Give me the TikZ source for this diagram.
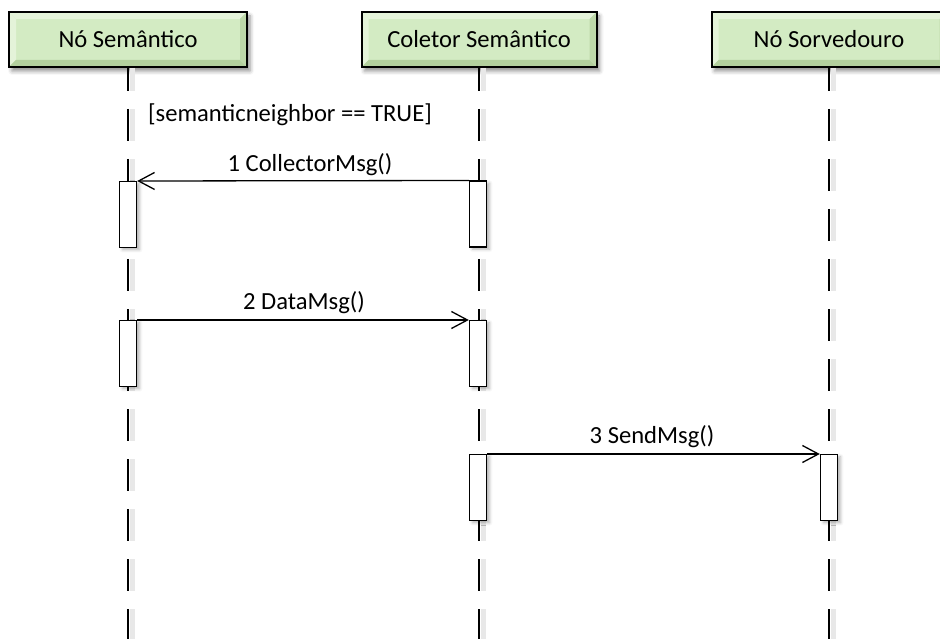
\documentclass[tikz,border=0pt]{standalone}
\usepackage{fontspec}
\setmainfont{Carlito}
\usetikzlibrary{arrows.meta,shadows.blur}

\definecolor{hdrgreen}{HTML}{D3EBC3}
\definecolor{bevlight}{HTML}{E4F3D9}
\definecolor{bevdark}{HTML}{B3D09E}

\tikzset{
  header/.style={draw=black, line width=2pt, fill=hdrgreen,
    minimum height=55pt, inner sep=0pt,
    font=\fontsize{24.6}{29}\selectfont,
    blur shadow={shadow xshift=3pt, shadow yshift=-4pt,
      shadow blur radius=4pt, shadow opacity=45},
    path picture={
      \coordinate (pnw) at (path picture bounding box.north west);
      \coordinate (pne) at (path picture bounding box.north east);
      \coordinate (psw) at (path picture bounding box.south west);
      \coordinate (pse) at (path picture bounding box.south east);
      \fill[bevlight] (pnw) -- (pne) -- ([shift={(-7pt,-7pt)}]pne)
        -- ([shift={(7pt,-7pt)}]pnw) -- cycle;
      \fill[bevlight] (pnw) -- (psw) -- ([shift={(7pt,7pt)}]psw)
        -- ([shift={(7pt,-7pt)}]pnw) -- cycle;
      \fill[bevdark] (psw) -- (pse) -- ([shift={(-7pt,7pt)}]pse)
        -- ([shift={(7pt,7pt)}]psw) -- cycle;
      \fill[bevdark!70!hdrgreen] (pne) -- (pse) -- ([shift={(-7pt,7pt)}]pse)
        -- ([shift={(-7pt,-7pt)}]pne) -- cycle;
    }},
  lifeline/.style={line width=1.7pt, dash pattern=on 32pt off 18pt, dash phase=9pt},
  lifeshadow/.style={line width=5pt, black!9, dash pattern=on 32pt off 18pt, dash phase=9pt},
  activation/.style={draw=black, fill=white, line width=1.4pt,
    minimum width=17pt, minimum height=66pt, inner sep=0pt, anchor=north,
    blur shadow={shadow xshift=3pt, shadow yshift=-2pt,
      shadow blur radius=3pt, shadow opacity=30}},
  msg/.style={line width=1.3pt,
    -{Straight Barb[length=16pt, width=17pt, line width=1.3pt]}},
  msglabel/.style={font=\fontsize{24.6}{29}\selectfont, inner sep=1pt},
}

\begin{document}
\begin{tikzpicture}[x=1pt, y=-1pt]
  \useasboundingbox (0,0) rectangle (940,639);

  % lifeline heads
  \node[header, minimum width=238pt] (h1) at (128,39.5) {Nó Semântico};
  \node[header, minimum width=235pt] (h2) at (479,39.5) {Coletor Semântico};
  \node[header, minimum width=235pt] (h3) at (829,39.5) {Nó Sorvedouro};

  % lifeline ends
  \coordinate (e1) at (128,639);
  \coordinate (e2) at (479,639);
  \coordinate (e3) at (829,639);

  % dashed lifelines with a soft shadow
  \draw[lifeshadow] ([xshift=4pt]h1.south) -- ([xshift=4pt]e1);
  \draw[lifeshadow] ([xshift=4pt]h2.south) -- ([xshift=4pt]e2);
  \draw[lifeshadow] ([xshift=4pt]h3.south) -- ([xshift=4pt]e3);
  \draw[lifeline] (h1.south) -- (e1);
  \draw[lifeline] (h2.south) -- (e2);
  \draw[lifeline] (h3.south) -- (e3);

  % guard condition
  \node[msglabel] (guard) at (290,115) {[semanticneighbor == TRUE]};

  % activation bars
  \node[activation] (a1) at (128,181) {};
  \node[activation] (a2) at (478,180.5) {};
  \node[activation] (a3) at (128,320) {};
  \node[activation] (a4) at (478,320) {};
  \node[activation] (a5) at (478,454) {};
  \node[activation] (a6) at (829,454) {};

  % messages
  \draw[msg] (a2.north west) -- (a1.north east);
  \node[msglabel] (m1) at (310,165) {1 CollectorMsg()};

  \draw[msg] (a3.north east) -- (a4.north west);
  \node[msglabel] (m2) at (304,303) {2 DataMsg()};

  \draw[msg] (a5.north east) -- (a6.north west);
  \node[msglabel] (m3) at (652,437) {3 SendMsg()};
\end{tikzpicture}
\end{document}
